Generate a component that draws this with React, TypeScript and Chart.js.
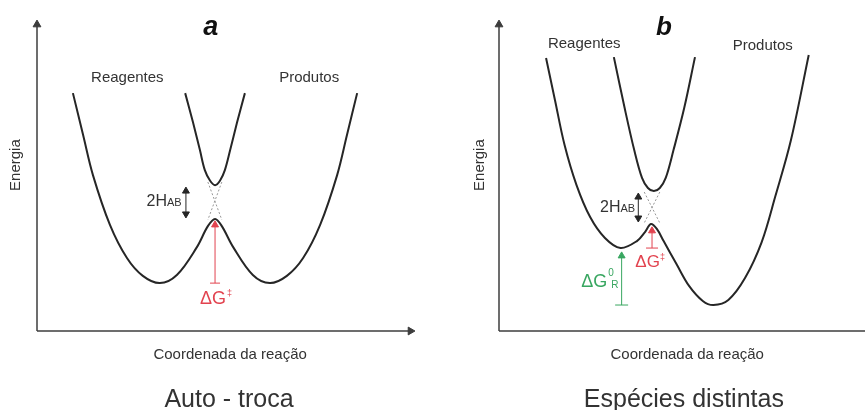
import React, { useEffect, useRef } from 'react';
import { Chart, registerables } from 'chart.js';

Chart.register(...registerables);

type Pt = [number, number];

// ---------- Panel a : Auto - troca (reaction coordinate, energy; arbitrary units 0..10) ----------
const aLower: Pt[] = [
  [0.95, 7.6], [1.22, 6.26], [1.48, 4.98], [1.93, 3.39], [2.38, 2.33], [2.8, 1.76], [3.25, 1.53],
  [3.7, 1.79], [4.23, 2.68], [4.52, 3.35], [4.71, 3.58], [4.89, 3.35], [5.19, 2.68], [5.71, 1.79],
  [6.16, 1.53], [6.61, 1.76], [7.04, 2.33], [7.49, 3.39], [7.94, 4.98], [8.2, 6.26], [8.47, 7.6],
];
const aUpper: Pt[] = [
  [3.92, 7.6], [4.13, 6.65], [4.31, 5.78], [4.44, 5.14], [4.58, 4.8], [4.71, 4.66],
  [4.84, 4.8], [4.97, 5.14], [5.11, 5.78], [5.29, 6.65], [5.5, 7.6],
];
const aDiabatic1: Pt[] = [[4.52, 4.76], [4.89, 3.55]];
const aDiabatic2: Pt[] = [[4.89, 4.76], [4.52, 3.55]];
const aCoupling: Pt[] = [[3.94, 3.74], [3.94, 4.47]];
const aBarrier: Pt[] = [[4.71, 1.53], [4.71, 3.39]];

// ---------- Panel b : Espécies distintas ----------
const bLower: Pt[] = [
  [1.27, 8.72], [1.51, 7.38], [1.77, 5.94], [2.09, 4.67], [2.46, 3.64], [2.86, 2.97], [3.28, 2.65],
  [3.73, 2.88], [3.94, 3.16], [4.1, 3.42], [4.26, 3.26], [4.44, 2.88], [4.79, 2.14], [5.13, 1.44],
  [5.5, 0.96], [5.79, 0.83], [6.19, 0.99], [6.64, 1.69], [7.09, 2.84], [7.46, 4.31], [7.88, 6.1],
  [8.36, 8.82],
];
const bUpper: Pt[] = [
  [3.1, 8.75], [3.39, 7.13], [3.65, 5.78], [3.86, 4.89], [4.02, 4.57], [4.18, 4.47],
  [4.34, 4.57], [4.5, 4.89], [4.71, 5.78], [5.0, 7.13], [5.29, 8.75],
];
const bDiabatic1: Pt[] = [[3.92, 4.44], [4.34, 3.45]];
const bDiabatic2: Pt[] = [[4.34, 4.44], [3.92, 3.45]];
const bCoupling: Pt[] = [[3.76, 3.61], [3.76, 4.28]];
const bBarrier: Pt[] = [[4.13, 2.65], [4.13, 3.2]];
const bDriving: Pt[] = [[3.31, 0.83], [3.31, 2.4]];

// axes (with arrow tips)
const xAxisLine: Pt[] = [[0, 0], [9.88, 0]];
const xAxisLineLong: Pt[] = [[0, 0], [10, 0]];
const yAxisLine: Pt[] = [[0, 0], [0, 9.79]];

// texts
const aTexts = ['a', 'Reagentes', 'Produtos', 'Energia', 'Coordenada da reação', 'Auto - troca'];
const bTexts = ['b', 'Reagentes', 'Produtos', 'Energia', 'Coordenada da reação', 'Espécies distintas'];
const couplingLabel = ['2H', 'AB'];
const barrierLabel = ['ΔG', '‡'];
const drivingLabel = ['ΔG', '0', 'R'];

// ---------- styling ----------
const FONT = "'Liberation Sans', Arial, Helvetica, sans-serif";
const INK = '#262626';
const TEXT = '#333333';
const AXIS = '#3c3c3c';
const RED = '#e2434f';
const GREEN = '#38a660';
const DASH = '#8c8c8c';

type TextItem = {
  text: string; x: number; y: number; size: number; color?: string; bold?: boolean; italic?: boolean;
  align?: CanvasTextAlign; rotate?: boolean;
  sup?: string; supSize?: number; supRise?: number; supGap?: number;
  sub?: string; subSize?: number; subDrop?: number; subGap?: number;
};

const toPts = (d: Pt[]) => d.map(([x, y]) => ({ x, y }));

const curve = (d: Pt[]) => ({
  data: toPts(d), showLine: true, borderColor: INK, borderWidth: 2, pointRadius: 0,
  tension: 0.35, fill: false, clip: false as const,
});
const dashed = (d: Pt[]) => ({
  data: toPts(d), showLine: true, borderColor: DASH, borderWidth: 0.9, borderDash: [2, 2],
  pointRadius: 0, fill: false, clip: false as const,
});
const arrow = (d: Pt[], color: string, styles: any[], radii: number[], rot: number[], width = 1) => ({
  data: toPts(d), showLine: true, borderColor: color, borderWidth: width,
  pointStyle: styles, pointRadius: radii, pointRotation: rot,
  pointBackgroundColor: color, pointBorderColor: color, pointBorderWidth: 1,
  fill: false, clip: false as const,
});

const textPlugin = (items: TextItem[]) => ({
  id: 'texts',
  afterDatasetsDraw(chart: any) {
    const { ctx } = chart;
    const sx = chart.scales.x;
    const sy = chart.scales.y;
    for (const it of items) {
      const px = sx.getPixelForValue(it.x);
      const py = sy.getPixelForValue(it.y);
      ctx.save();
      ctx.fillStyle = it.color || TEXT;
      ctx.textBaseline = 'alphabetic';
      ctx.font = `${it.italic ? 'italic ' : ''}${it.bold ? 'bold ' : ''}${it.size}px ${FONT}`;
      const align = it.align || 'center';
      ctx.textAlign = align;
      if (it.rotate) {
        ctx.translate(px, py);
        ctx.rotate(-Math.PI / 2);
        ctx.fillText(it.text, 0, 0);
      } else {
        ctx.fillText(it.text, px, py);
      }
      const w = ctx.measureText(it.text).width;
      const end = align === 'left' ? px + w : align === 'right' ? px : px + w / 2;
      ctx.textAlign = 'left';
      if (it.sup) {
        ctx.font = `${it.supSize || 10}px ${FONT}`;
        ctx.fillText(it.sup, end + (it.supGap ?? 1), py - (it.supRise ?? 8));
      }
      if (it.sub) {
        ctx.font = `${it.subSize || 10}px ${FONT}`;
        ctx.fillText(it.sub, end + (it.subGap ?? 1), py + (it.subDrop ?? 0));
      }
      ctx.restore();
    }
  },
});

const aItems: TextItem[] = [
  { text: aTexts[0], x: 4.6, y: 9.45, size: 27, bold: true, italic: true, color: '#111' },
  { text: aTexts[1], x: 2.39, y: 7.97, size: 15 },
  { text: aTexts[2], x: 7.2, y: 7.97, size: 15 },
  { text: aTexts[3], x: -0.46, y: 5.3, size: 15, rotate: true },
  { text: aTexts[4], x: 5.11, y: -0.89, size: 15 },
  { text: aTexts[5], x: 5.08, y: -2.43, size: 25 },
  { text: couplingLabel[0], x: 3.44, y: 3.99, size: 16, align: 'right', sub: couplingLabel[1], subSize: 11, subGap: 0, subDrop: 0 },
  { text: barrierLabel[0], x: 4.31, y: 0.86, size: 18, align: 'left', color: RED, sup: barrierLabel[1], supSize: 9, supRise: 8, supGap: 1 },
];

const bItems: TextItem[] = [
  { text: bTexts[0], x: 4.45, y: 9.46, size: 26, bold: true, italic: true, color: '#111' },
  { text: bTexts[1], x: 2.3, y: 9.03, size: 15 },
  { text: bTexts[2], x: 7.12, y: 8.98, size: 15 },
  { text: bTexts[3], x: -0.41, y: 5.3, size: 15, rotate: true },
  { text: bTexts[4], x: 5.08, y: -0.89, size: 15 },
  { text: bTexts[5], x: 4.99, y: -2.44, size: 25 },
  { text: couplingLabel[0], x: 3.28, y: 3.8, size: 16, align: 'right', sub: couplingLabel[1], subSize: 11, subGap: 0, subDrop: 0 },
  { text: barrierLabel[0], x: 3.68, y: 2.04, size: 17, align: 'left', color: RED, sup: barrierLabel[1], supSize: 9, supRise: 7, supGap: 0 },
  { text: drivingLabel[0], x: 2.22, y: 1.41, size: 18, align: 'left', color: GREEN, sup: drivingLabel[1], supSize: 10, supRise: 11, supGap: 1, sub: drivingLabel[2], subSize: 10, subDrop: 1, subGap: 4 },
];

const aDatasets = [
  arrow(xAxisLine, AXIS, ['line', 'triangle'], [0, 4.5], [0, 90], 1.5),
  arrow(yAxisLine, AXIS, ['line', 'triangle'], [0, 4.5], [0, 0], 1.5),
  dashed(aDiabatic1), dashed(aDiabatic2),
  curve(aLower), curve(aUpper),
  arrow(aCoupling, INK, ['triangle', 'triangle'], [4, 4], [180, 0], 1),
  arrow(aBarrier, RED, ['line', 'triangle'], [5, 4], [0, 0], 1),
];

const bDatasets = [
  arrow(xAxisLineLong, AXIS, ['line', 'line'], [0, 0], [0, 0], 1.5),
  arrow(yAxisLine, AXIS, ['line', 'triangle'], [0, 4.5], [0, 0], 1.5),
  dashed(bDiabatic1), dashed(bDiabatic2),
  curve(bLower), curve(bUpper),
  arrow(bCoupling, INK, ['triangle', 'triangle'], [4, 4], [180, 0], 1),
  arrow(bBarrier, RED, ['line', 'triangle'], [6, 4], [0, 0], 1),
  arrow(bDriving, GREEN, ['line', 'triangle'], [6.5, 4], [0, 0], 1),
];

function Panel(props: { left: number; width: number; padLeft: number; padRight: number; datasets: any[]; items: TextItem[] }) {
  const ref = useRef<HTMLCanvasElement>(null);
  useEffect(() => {
    const chart = new Chart(ref.current as HTMLCanvasElement, {
      type: 'scatter',
      data: { datasets: props.datasets as any },
      options: {
        animation: false,
        responsive: false,
        events: [],
        layout: { padding: { left: props.padLeft, right: props.padRight, top: 18, bottom: 79 } },
        scales: {
          x: { type: 'linear', min: 0, max: 10, display: false },
          y: { type: 'linear', min: 0, max: 10, display: false },
        },
        plugins: { legend: { display: false }, tooltip: { enabled: false }, title: { display: false } },
      },
      plugins: [textPlugin(props.items)],
    });
    return () => chart.destroy();
  }, []);
  return (
    <canvas
      ref={ref}
      width={props.width}
      height={410}
      style={{ position: 'absolute', left: props.left, top: 0, width: props.width, height: 410 }}
    />
  );
}

export default function App() {
  return (
    <div style={{ position: 'fixed', left: 0, top: 0, width: 865, height: 410, overflow: 'hidden', background: '#fff' }}>
      <Panel left={0} width={430} padLeft={37} padRight={15} datasets={aDatasets} items={aItems} />
      <Panel left={430} width={447} padLeft={69} padRight={0} datasets={bDatasets} items={bItems} />
    </div>
  );
}
